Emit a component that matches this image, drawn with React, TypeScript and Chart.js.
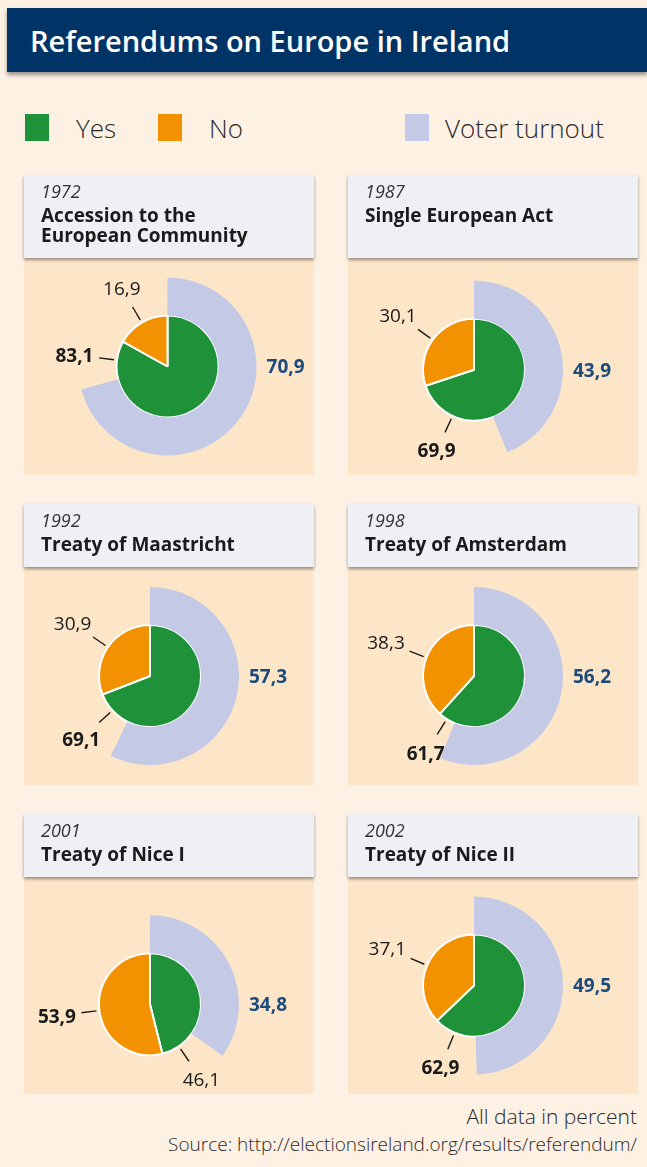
import React, { useEffect, useRef } from 'react';
import { Chart, registerables } from 'chart.js';

Chart.register(...registerables);

// ---- Data ----
const years = ['1972', '1987', '1992', '1998', '2001', '2002'];
const treatyTitles = [
  ['Accession to the', 'European Community'],
  ['Single European Act'],
  ['Treaty of Maastricht'],
  ['Treaty of Amsterdam'],
  ['Treaty of Nice I'],
  ['Treaty of Nice II'],
];
const yesValues = [83.1, 69.9, 69.1, 61.7, 46.1, 62.9];
const noValues = [16.9, 30.1, 30.9, 38.3, 53.9, 37.1];
const turnoutValues = [70.9, 43.9, 57.3, 56.2, 34.8, 49.5];
const legendLabels = ['Yes', 'No', 'Voter turnout'];

// ---- Style ----
const FONT = '"Open Sans", "Noto Sans", sans-serif';
const C_BG = '#fdf1e4';
const C_TITLE = '#003466';
const C_PANEL = '#fde5c8';
const C_HEADER = '#eef0f6';
const C_YES = '#1e9139';
const C_NO = '#f39200';
const C_TURNOUT = '#c4cae6';
const C_NAVY = '#1b4b7c';

const PIE_R = 51;
const RING_R = 89;

const fmt = (v: number) => v.toFixed(1).replace('.', ',');

const labelPlugin = {
  id: 'refLabels',
  afterDatasetsDraw(chart: any) {
    const idx = chart.options.plugins.refLabels.index;
    const vals = [yesValues[idx], noValues[idx]];
    const ringMeta = chart.getDatasetMeta(0);
    const pieMeta = chart.getDatasetMeta(1);
    const ring = ringMeta.data[0];
    const cx = ring.x;
    const cy = ring.y;
    const R = ring.outerRadius;
    const r = pieMeta.data[0].outerRadius;
    const ringEnd = ring.endAngle;
    const ctx = chart.ctx;
    ctx.save();
    const fs = 19;
    const digitH = fs * 0.714;
    const maxV = Math.max(vals[0], vals[1]);
    for (let i = 0; i < 2; i++) {
      const arc = pieMeta.data[i];
      const s = arc.startAngle;
      const e = arc.endAngle;
      const a0 = Math.max(s, ringEnd);
      const mid = e > a0 + 0.01 ? (a0 + e) / 2 : (s + e) / 2;
      const ux = Math.cos(mid);
      const uy = Math.sin(mid);
      ctx.strokeStyle = '#1a1a1a';
      ctx.lineWidth = 1.4;
      ctx.beginPath();
      ctx.moveTo(cx + (r + 3) * ux, cy + (r + 3) * uy);
      ctx.lineTo(cx + (r + 18) * ux, cy + (r + 18) * uy);
      ctx.stroke();
      const bold = vals[i] === maxV;
      ctx.font = `${bold ? 700 : 400} ${fs}px ${FONT}`;
      const txt = fmt(vals[i]);
      const w = ctx.measureText(txt).width;
      const d = r + 23 + (w / 2) * Math.abs(ux) + (digitH / 2 + 1) * Math.abs(uy);
      const tx = cx + d * ux;
      const ty = cy + d * uy;
      ctx.fillStyle = '#1a1a1a';
      ctx.textAlign = 'center';
      ctx.textBaseline = 'alphabetic';
      ctx.fillText(txt, tx, ty + digitH / 2);
    }
    ctx.font = `700 ${fs}px ${FONT}`;
    ctx.fillStyle = C_NAVY;
    ctx.textAlign = 'left';
    ctx.textBaseline = 'alphabetic';
    ctx.fillText(fmt(turnoutValues[idx]), cx + R + 10, cy + digitH / 2);
    ctx.restore();
  },
};

function extents(turnout: number) {
  let minX = -PIE_R, maxX = PIE_R, minY = -PIE_R, maxY = PIE_R;
  const a = (turnout / 100) * 360;
  const steps = Math.ceil(a);
  for (let k = 0; k <= steps; k++) {
    const t = (Math.min(k, a) * Math.PI) / 180;
    const x = RING_R * Math.sin(t);
    const y = -RING_R * Math.cos(t);
    minX = Math.min(minX, x); maxX = Math.max(maxX, x);
    minY = Math.min(minY, y); maxY = Math.max(maxY, y);
  }
  return { minX, maxX, minY, maxY };
}

function PieChart({ index, width, height }: { index: number; width: number; height: number }) {
  const ref = useRef<HTMLCanvasElement>(null);
  useEffect(() => {
    const ex = extents(turnoutValues[index]);
    const sx = -(ex.minX + ex.maxX) / 2;
    const sy = -(ex.minY + ex.maxY) / 2;
    const padding = {
      left: Math.max(0, 2 * sx),
      right: Math.max(0, -2 * sx),
      top: Math.max(0, 2 * sy),
      bottom: Math.max(0, -2 * sy),
    };
    const chart = new Chart(ref.current as HTMLCanvasElement, {
      type: 'doughnut',
      data: {
        labels: ['Yes', 'No'],
        datasets: [
          {
            data: [turnoutValues[index], 100 - turnoutValues[index]],
            backgroundColor: [C_TURNOUT, 'rgba(0,0,0,0)'],
            borderWidth: 0,
            weight: RING_R - PIE_R,
          } as any,
          {
            data: [yesValues[index], noValues[index]],
            backgroundColor: [C_YES, C_NO],
            borderColor: '#ffffff',
            borderWidth: 2,
            weight: PIE_R,
          } as any,
        ],
      },
      options: {
        responsive: false,
        animation: false,
        events: [],
        radius: RING_R,
        cutout: 0,
        layout: { padding },
        plugins: {
          legend: { display: false },
          tooltip: { enabled: false },
          refLabels: { index },
        } as any,
      } as any,
      plugins: [labelPlugin],
    });
    return () => chart.destroy();
  }, [index]);
  return <canvas ref={ref} width={width} height={height} style={{ display: 'block', width, height }} />;
}

const colX = [24, 348];
const rows = [
  { top: 175, headerH: 83, bottom: 475 },
  { top: 504, headerH: 63, bottom: 785 },
  { top: 814, headerH: 63, bottom: 1094 },
];
const PANEL_W = 290;

function Panel({ index }: { index: number }) {
  const row = rows[Math.floor(index / 2)];
  const x = colX[index % 2];
  const chartTop = row.top + row.headerH;
  const chartH = row.bottom - chartTop;
  return (
    <>
      <div style={{ position: 'absolute', left: x, top: row.top, width: PANEL_W, height: row.bottom - row.top, background: C_PANEL }} />
      <div style={{ position: 'absolute', left: x, top: chartTop, width: PANEL_W, height: chartH }}>
        <PieChart index={index} width={PANEL_W} height={chartH} />
      </div>
      <div
        style={{
          position: 'absolute', left: x, top: row.top, width: PANEL_W, height: row.headerH,
          background: C_HEADER, boxShadow: '0 2px 3px rgba(0,0,0,0.4)',
        }}
      >
        <div style={{ position: 'absolute', left: 17, top: 6, fontSize: 18, lineHeight: '20px', fontStyle: 'italic', fontWeight: 400, color: '#333' }}>
          {years[index]}
        </div>
        <div style={{ position: 'absolute', left: 17, top: 30, fontSize: 19, lineHeight: '20px', fontWeight: 700, color: '#1a1a1a', whiteSpace: 'nowrap' }}>
          {treatyTitles[index].map((t, k) => (
            <div key={k}>{t}</div>
          ))}
        </div>
      </div>
    </>
  );
}

const legendColors = [C_YES, C_NO, C_TURNOUT];
const legendSquareX = [25, 158, 405];
const legendTextX = [76, 209, 445];

export default function App() {
  return (
    <div style={{ position: 'absolute', left: 0, top: 0, width: 647, height: 1167, background: C_BG, fontFamily: FONT, overflow: 'hidden' }}>
      <div style={{ position: 'absolute', left: 7, top: 8, width: 640, height: 64, background: C_TITLE, boxShadow: '0 3px 4px rgba(0,0,0,0.4)' }} />
      <div style={{ position: 'absolute', left: 30, top: 26, fontSize: 29, lineHeight: '29px', fontWeight: 600, color: '#ffffff', whiteSpace: 'nowrap' }}>
        Referendums on Europe in Ireland
      </div>
      {legendLabels.map((l, i) => (
        <React.Fragment key={l}>
          <div style={{ position: 'absolute', left: legendSquareX[i], top: 114, width: 24, height: 27, background: legendColors[i] }} />
          <div style={{ position: 'absolute', left: legendTextX[i], top: 115, fontSize: 26, lineHeight: '26px', fontWeight: 300, color: '#2a2a2a', whiteSpace: 'nowrap' }}>
            {l}
          </div>
        </React.Fragment>
      ))}
      {years.map((_, i) => (
        <Panel key={i} index={i} />
      ))}
      <div style={{ position: 'absolute', right: 10, top: 1106, fontSize: 21, lineHeight: '21px', fontWeight: 300, color: '#2a2a2a', whiteSpace: 'nowrap' }}>
        All data in percent
      </div>
      <div style={{ position: 'absolute', right: 10, top: 1135, fontSize: 19, lineHeight: '19px', fontWeight: 300, color: '#2a2a2a', whiteSpace: 'nowrap' }}>
        Source: http://electionsireland.org/results/referendum/
      </div>
    </div>
  );
}
